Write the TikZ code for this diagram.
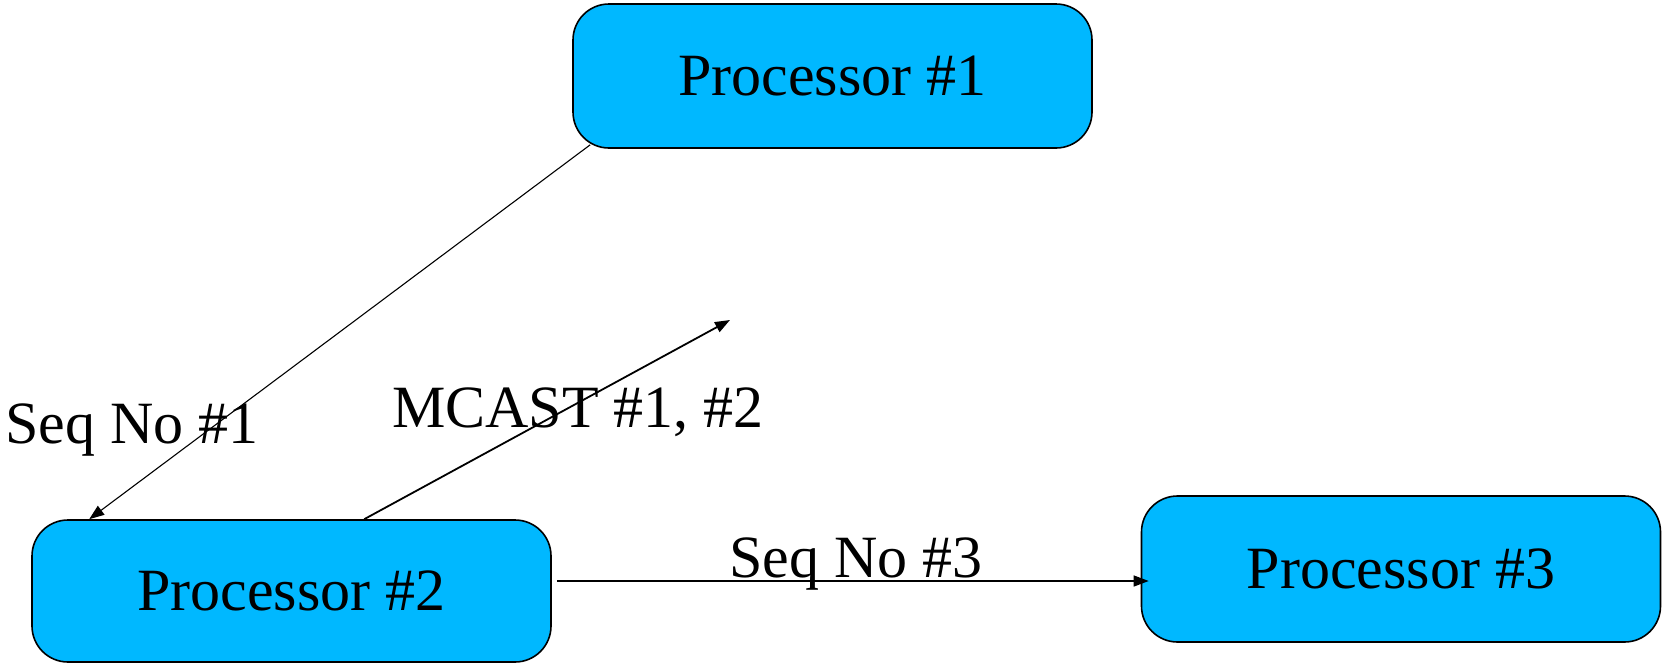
\documentclass[tikz,border=0pt]{standalone}
\usepackage{fontspec}
\setmainfont{Liberation Serif}
\usetikzlibrary{arrows.meta}
\definecolor{procblue}{RGB}{0,184,255}
\tikzset{
  procbox/.style={draw=black, line width=1.6pt, fill=procblue, rounded corners=36pt,
    minimum width=519pt, minimum height=144pt, inner sep=0pt,
    font=\fontsize{60}{72}\selectfont},
  lbl/.style={anchor=base west, inner sep=0pt, font=\fontsize{60}{72}\selectfont},
  msg/.style={-{Triangle[length=15pt,width=11pt]}, line width=1.3pt},
}
\begin{document}
\begin{tikzpicture}[x=1pt,y=-1pt]
  \useasboundingbox (0,0) rectangle (1663,665);
  % processors
  \node[procbox] (p1) at (832.5,76) {Processor \#1};
  \node[procbox, minimum height=142pt] (p2) at (291.5,591) {Processor \#2};
  \node[procbox, minimum height=146pt] (p3) at (1401,569) {Processor \#3};
  % message labels
  \node[lbl] (l1) at (5,443) {Seq No \#1};
  \node[lbl] (l2) at (392,427) {MCAST \#1, \#2};
  \node[lbl] (l3) at (729,577) {Seq No \#3};
  % free end of the multicast
  \coordinate (mc) at (730,320);
  % messages
  \draw[msg, line width=1.1pt] ([shift={(18,-4)}]p1.south west) -- ([xshift=58pt]p2.north west);
  \draw[msg, line width=1.8pt] ([xshift=333pt]p2.north west) -- (mc);
  \draw[msg] ([shift={(5,-10)}]p2.east) -- ([shift={(8,12)}]p3.west);
\end{tikzpicture}
\end{document}
